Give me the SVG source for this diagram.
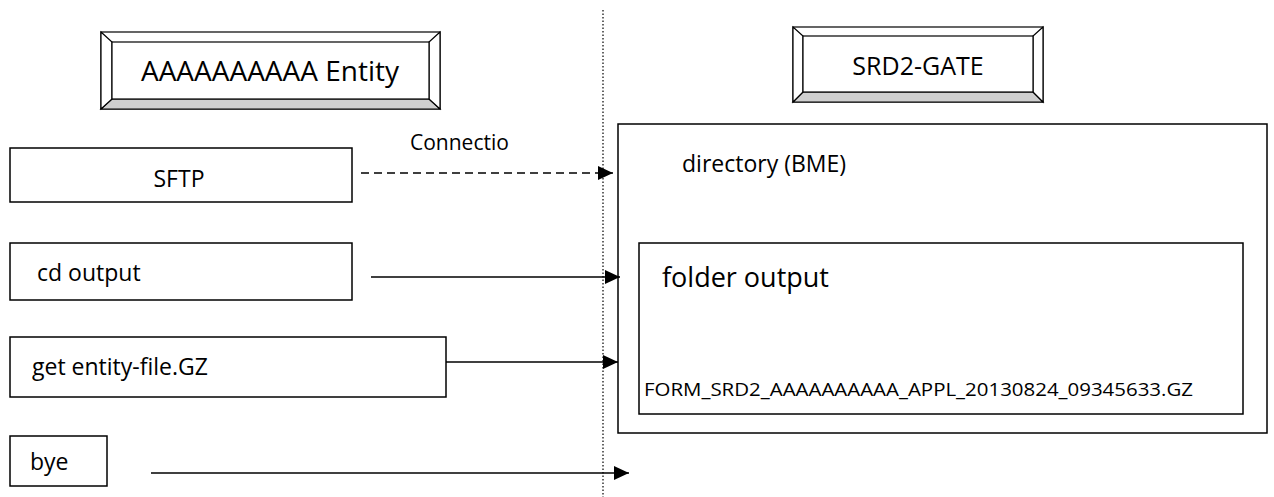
<svg xmlns="http://www.w3.org/2000/svg" width="1274" height="497" viewBox="0 0 1274 497">
<defs>
<style>
.box{fill:#fff;stroke:#000;stroke-width:1.5}
.bev{fill:#fff;stroke:#000;stroke-width:1.2}
.bevg{fill:#cfcfcf;stroke:#000;stroke-width:1.2}
.t{font-family:"Open Sans","Noto Sans",sans-serif;fill:#000}
.ln{stroke:#000;stroke-width:1.5;fill:none}
</style>
<marker id="ah2" viewBox="0 0 15 14" refX="15" refY="7" markerWidth="15" markerHeight="14" markerUnits="userSpaceOnUse" orient="auto">
<path d="M0,0 L15,7 L0,14 z" fill="#000"/>
</marker>
</defs>
<rect width="1274" height="497" fill="#fff"/>

<g id="divider">
<line x1="603" y1="10" x2="603" y2="497" stroke="#000" stroke-width="1.2" stroke-dasharray="1.5,2"/>
</g>

<g id="entity">
<rect class="bev" x="101" y="32" width="339" height="77"/>
<polygon class="bevg" points="101,109 112,99 429,99 440,109"/>
<polygon class="bev" points="101,32 112,42 112,99 101,109"/>
<polygon class="bev" points="440,32 429,42 429,99 440,109"/>
<rect class="bev" x="112" y="42" width="317" height="57" stroke-width="2"/>
<text class="t" x="270" y="81" font-size="28" text-anchor="middle">AAAAAAAAAA Entity</text>
</g>

<g id="gate">
<rect class="bev" x="793" y="27" width="250" height="75"/>
<polygon class="bevg" points="793,102 803,92 1033,92 1043,102"/>
<polygon class="bev" points="793,27 803,36 803,92 793,102"/>
<polygon class="bev" points="1043,27 1033,36 1033,92 1043,102"/>
<rect class="bev" x="803" y="36" width="230" height="56" stroke-width="2"/>
<text class="t" x="918" y="75" font-size="25" text-anchor="middle">SRD2-GATE</text>
</g>

<g id="sftp">
<rect class="box" x="10" y="148" width="342" height="54"/>
<text class="t" x="179" y="187" font-size="23" text-anchor="middle">SFTP</text>
</g>

<g id="cd">
<rect class="box" x="10" y="243" width="342" height="57"/>
<text class="t" x="37" y="281" font-size="23">cd output</text>
</g>

<g id="get">
<rect class="box" x="10" y="337" width="436" height="60"/>
<text class="t" x="32" y="375" font-size="23">get entity-file.GZ</text>
</g>

<g id="bye">
<rect class="box" x="10" y="436" width="97" height="50"/>
<text class="t" x="30" y="470" font-size="23">bye</text>
</g>

<g id="directory">
<rect class="box" x="618" y="124" width="649" height="309" stroke-width="2"/>
<text class="t" x="682" y="172" font-size="23">directory (BME)</text>
</g>

<g id="folder">
<rect class="box" x="639" y="243" width="604" height="171"/>
<text class="t" x="662" y="287" font-size="27">folder output</text>
<text class="t" x="644" y="396" font-size="19" textLength="549" lengthAdjust="spacingAndGlyphs">FORM_SRD2_AAAAAAAAAA_APPL_20130824_09345633.GZ</text>
</g>

<g id="connectors">
<line class="ln" x1="361" y1="173" x2="613" y2="173" stroke-dasharray="8,5" marker-end="url(#ah2)"/>
<text class="t" x="410" y="150" font-size="21">Connectio</text>
<line class="ln" x1="371" y1="277" x2="620" y2="277" marker-end="url(#ah2)"/>
<line class="ln" x1="446" y1="362" x2="618" y2="362" marker-end="url(#ah2)"/>
<line class="ln" x1="151" y1="473" x2="629" y2="473" stroke-width="2" marker-end="url(#ah2)"/>
</g>
</svg>
